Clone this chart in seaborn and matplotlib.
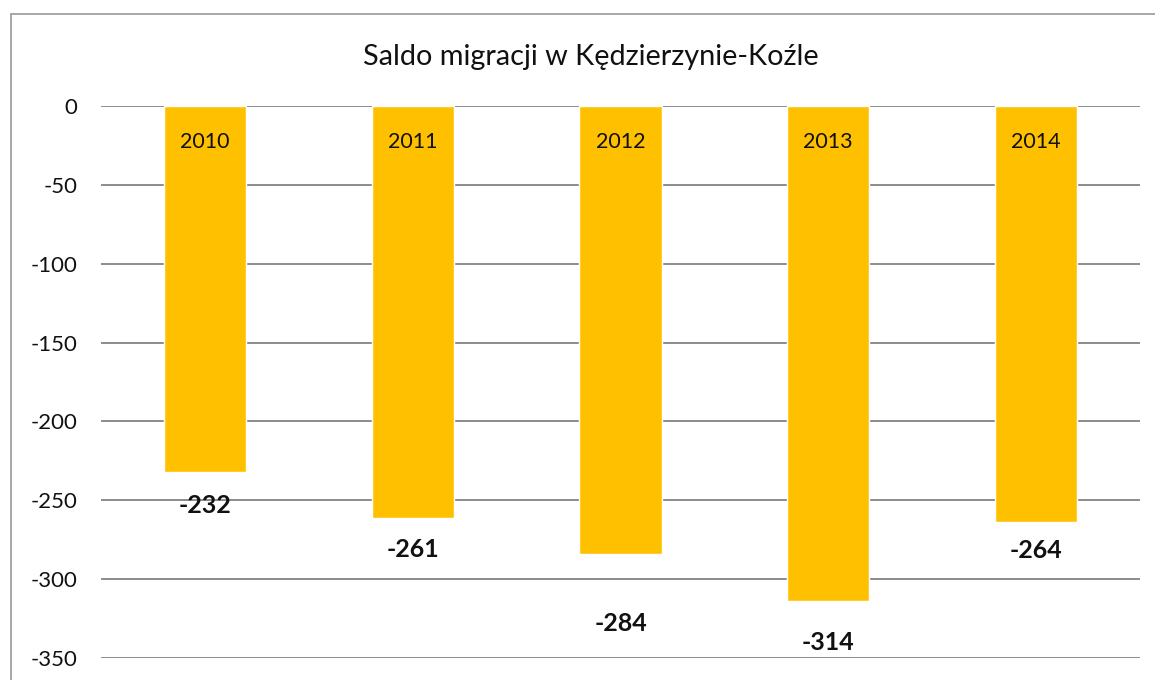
import matplotlib
matplotlib.use("Agg")
import matplotlib.pyplot as plt
import seaborn as sns
import pandas as pd
from matplotlib.patches import Rectangle

# data
years = ["2010", "2011", "2012", "2013", "2014"]
saldo = [-232, -261, -284, -314, -264]
# where the value labels sit (data units)
label_y = [-253, -281.5, -328, -340, -282]
year_label_y = -22.8

df = pd.DataFrame({"rok": years, "saldo": saldo})

sns.set_style("white")
plt.rcParams["font.family"] = ["Lato", "DejaVu Sans"]
plt.rcParams["axes.unicode_minus"] = False

fig = plt.figure(figsize=(11.55, 6.8), dpi=100)
ax = fig.add_axes([101 / 1155, 1 - 658 / 680, (1140 - 101) / 1155, (658 - 106) / 680])

sns.barplot(data=df, x="rok", y="saldo", color="#FFC000", width=0.395,
            saturation=1, ax=ax, zorder=3)

ax.set_ylim(-350, 0)
ax.set_yticks(range(-350, 1, 50))
ax.yaxis.grid(True, color="#8c8c8c", linewidth=1.4, zorder=0)
ax.set_axisbelow(True)
for s in ax.spines.values():
    s.set_visible(False)
ax.set_xlabel("")
ax.set_ylabel("")
ax.set_xticks([])
ax.tick_params(axis="y", length=0, pad=17, labelsize=16, labelcolor="#111111")

for i, (yr, v, ly) in enumerate(zip(years, saldo, label_y)):
    ax.text(i, year_label_y, yr, ha="center", va="center", fontsize=15.5, color="#111111", zorder=4)
    ax.text(i, ly, str(v), ha="center", va="center", fontsize=18, fontweight="bold",
            color="#111111", zorder=4, clip_on=False)

fig.text(591 / 1155, 1 - 57 / 680, "Saldo migracji w Kędzierzynie-Koźle", ha="center", va="center",
         fontsize=20.8, color="#111111")

# chart frame (cut off at right and bottom)
fig.patches.append(Rectangle((11 / 1155, -0.1), 1.2, 1 - 14 / 680 + 0.1, transform=fig.transFigure,
                             fill=False, edgecolor="#a0a0a0", linewidth=1.3))

fig.savefig("out.png", dpi=100)
